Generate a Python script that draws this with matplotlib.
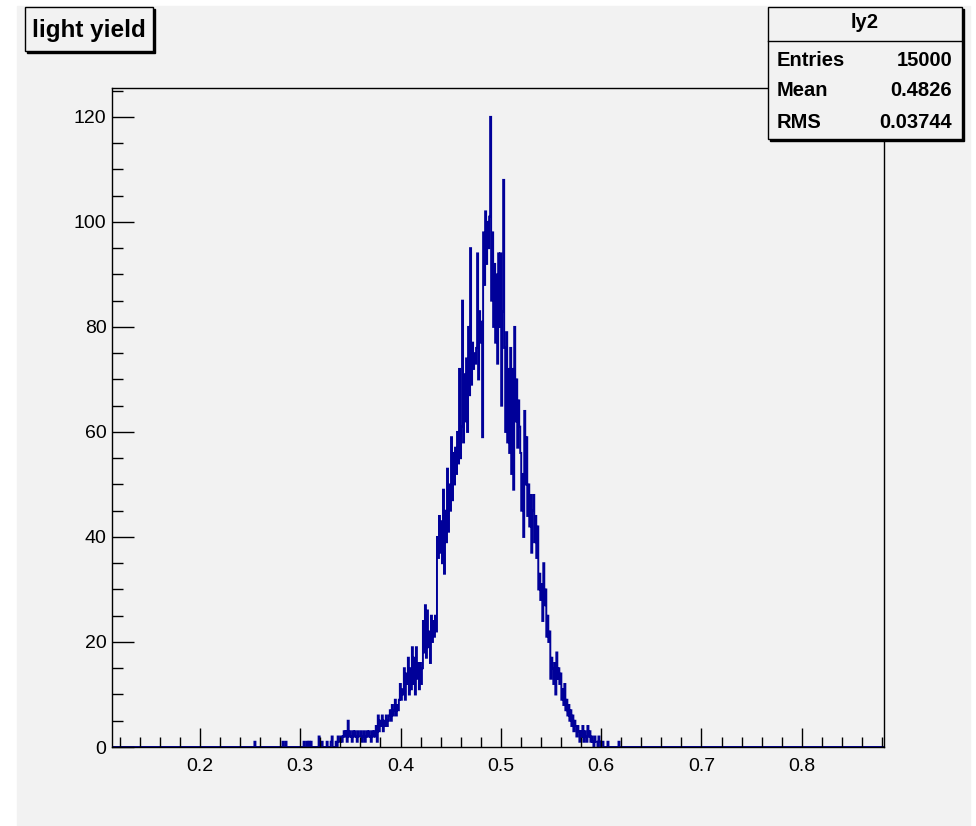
import numpy as np
import matplotlib.pyplot as plt
from matplotlib.patches import Rectangle

# histogram range and bin width
x_lo, x_hi, bw = 0.1123, 0.882, 0.001

# sparse entries in the lower tail
tail_x = [0.254, 0.282, 0.285, 0.303, 0.306, 0.308, 0.310, 0.318, 0.321,
          0.326, 0.330, 0.331, 0.335, 0.337, 0.338]
tail_n = [1, 1, 1, 1, 1, 1, 1, 2, 1, 1, 1, 2, 1, 2, 1]

# main body of the distribution, one value per bin from core_start
core_start = 0.339
core_n = [
    1, 2, 1, 2, 3, 2, 3, 1, 5, 2,
    3, 2, 1, 3, 2, 3, 2, 1, 3, 2,
    2, 3, 1, 2, 3, 1, 2, 3, 2, 3,
    2, 1, 3, 2, 3, 2, 4, 1, 6, 3,
    5, 4, 6, 3, 5, 4, 6, 4, 5, 6,
    7, 5, 8, 6, 7, 9, 6, 8, 7, 9,
    12, 9, 11, 10, 15, 9, 14, 12, 17, 10,
    15, 11, 19, 12, 17, 10, 19, 13, 16, 11,
    16, 12, 15, 24, 18, 27, 17, 26, 19, 22,
    16, 25, 20, 24, 21, 25, 22, 40, 36, 44,
    37, 43, 35, 49, 33, 45, 39, 53, 41, 50,
    45, 59, 47, 56, 50, 57, 52, 60, 54, 72,
    55, 61, 85, 58, 71, 62, 74, 60, 80, 67,
    95, 69, 77, 72, 75, 73, 76, 94, 70, 83,
    77, 81, 59, 98, 88, 102, 92, 100, 95, 101,
    120, 85, 98, 80, 92, 77, 90, 73, 94, 80,
    94, 65, 83, 108, 76, 60, 79, 58, 72, 56,
    76, 52, 72, 49, 80, 62, 70, 57, 66, 61,
    56, 45, 52, 40, 64, 50, 59, 44, 50, 42,
    48, 37, 45, 48, 39, 44, 36, 42, 30, 33,
    28, 31, 24, 35, 27, 30, 21, 25, 20, 22,
    13, 17, 15, 12, 16, 10, 18, 13, 15, 12,
    14, 9, 11, 8, 12, 7, 9, 6, 8, 5,
    7, 4, 6, 3, 5, 4, 2, 4, 3, 1,
    3, 2, 4, 1, 3, 2, 1, 4, 2, 3,
    1, 2, 1, 0, 2, 1, 1, 0, 2, 1,
    0, 1, 1, 0, 0, 0, 0, 1, 0, 0,
    0, 0, 0, 0, 0, 0, 0, 0, 1, 0,
]

title = 'light yield'
stat_name = 'ly2'
stat_labels = ['Entries', 'Mean', 'RMS']
stat_values = ['15000', '0.4826', '0.03744']

# build full bin contents
nbins = int(round((x_hi - x_lo) / bw))
edges = x_lo + bw * np.arange(nbins + 1)
counts = np.zeros(nbins)
for x, n in zip(tail_x, tail_n):
    counts[int(round((x - x_lo) / bw))] = n
i0 = int(round((core_start - x_lo) / bw))
counts[i0:i0 + len(core_n)] = core_n

W, H = 976, 826
bg = '#f2f2f2'
plt.rcParams['font.family'] = ['Liberation Sans', 'DejaVu Sans']


def fx(px):
    return px / W


def fy(py):
    return 1 - py / H


fig = plt.figure(figsize=(W / 100, H / 100), dpi=100, facecolor='white')
fig.patches.append(Rectangle((fx(17), 0), fx(970) - fx(17), fy(6),
                             transform=fig.transFigure, color=bg, zorder=-10))

ax = fig.add_axes([fx(112), fy(747), fx(884) - fx(112), fy(88) - fy(747)])
ax.set_facecolor(bg)
ax.stairs(counts, edges, color='#000099', lw=1.4)
ax.set_xlim(x_lo, x_hi)
ax.set_ylim(0, 125.5)

ax.set_xticks(np.arange(0.2, 0.81, 0.1))
ax.set_xticklabels(['0.2', '0.3', '0.4', '0.5', '0.6', '0.7', '0.8'])
ax.set_xticks(np.arange(0.12, 0.881, 0.02), minor=True)
ax.set_yticks(np.arange(0, 121, 20))
ax.set_yticks(np.arange(0, 126, 5), minor=True)
ax.tick_params(axis='x', which='major', direction='in', length=14, width=1,
               labelsize=14, pad=8, top=False)
ax.tick_params(axis='x', which='minor', direction='in', length=7, width=1, top=False)
ax.tick_params(axis='y', which='major', direction='in', length=16, width=1,
               labelsize=14, pad=4, right=False)
ax.tick_params(axis='y', which='minor', direction='in', length=8, width=1, right=False)
for s in ax.spines.values():
    s.set_linewidth(1)

# title box with shadow
fig.patches.append(Rectangle((fx(27), fy(53)), fx(155) - fx(27), fy(9) - fy(53),
                             transform=fig.transFigure, color='black', zorder=5))
fig.patches.append(Rectangle((fx(25), fy(51)), fx(153) - fx(25), fy(7) - fy(51),
                             transform=fig.transFigure, facecolor=bg,
                             edgecolor='black', lw=1, zorder=6))
fig.text(fx(89), fy(30), title, ha='center', va='center', fontsize=17.5,
         fontweight='bold', zorder=7)

# stats box with shadow
fig.patches.append(Rectangle((fx(770), fy(141)), fx(964) - fx(770), fy(9) - fy(141),
                             transform=fig.transFigure, color='black', zorder=5))
fig.patches.append(Rectangle((fx(768), fy(139)), fx(962) - fx(768), fy(7) - fy(139),
                             transform=fig.transFigure, facecolor=bg,
                             edgecolor='black', lw=1, zorder=6))
fig.add_artist(plt.Line2D([fx(768), fx(962)], [fy(41), fy(41)],
                          transform=fig.transFigure, color='black', lw=1, zorder=7))
fig.text(fx(865), fy(23), stat_name, ha='center', va='center', fontsize=14.5,
         fontweight='bold', zorder=7)
for k, (lab, val) in enumerate(zip(stat_labels, stat_values)):
    y = fy(60 + 31 * k)
    fig.text(fx(777), y, lab, ha='left', va='center', fontsize=14.5,
             fontweight='bold', zorder=7)
    fig.text(fx(952), y, val, ha='right', va='center', fontsize=14.5,
             fontweight='bold', zorder=7)

fig.savefig('out.png', dpi=100, facecolor='white')
